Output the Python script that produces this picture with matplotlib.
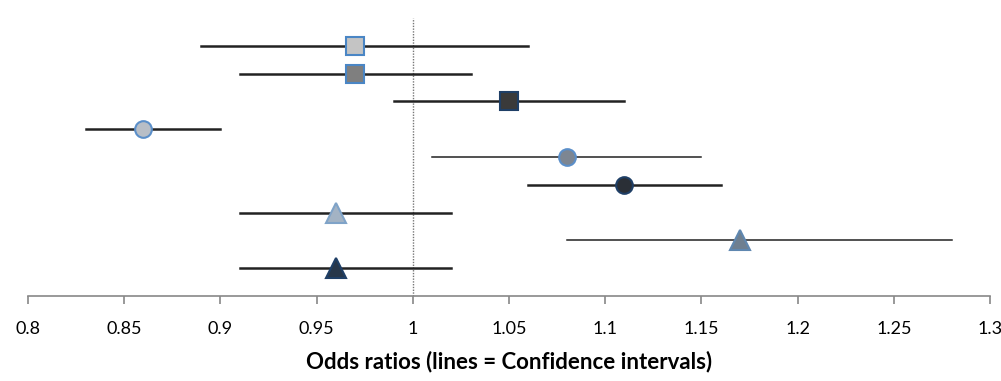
import matplotlib
matplotlib.use("Agg")
import matplotlib.pyplot as plt
import numpy as np

plt.rcParams["font.family"] = ["Lato", "DejaVu Sans"]

# rows listed top to bottom
odds = [0.97, 0.97, 1.05, 0.86, 1.08, 1.11, 0.96, 1.17, 0.96]
ci_lo = [0.89, 0.91, 0.99, 0.83, 1.01, 1.06, 0.91, 1.08, 0.91]
ci_hi = [1.06, 1.03, 1.11, 0.90, 1.15, 1.16, 1.02, 1.28, 1.02]
markers = ["s", "s", "s", "o", "o", "o", "^", "^", "^"]
fills = ["#c4c4c4", "#7f7f7f", "#3a3a3a", "#b8bec6", "#7d8692", "#2a2f36", "#a3b3c4", "#6e7f90", "#27374a"]
edges = ["#4a86c5", "#4a86c5", "#1f3f66", "#5b8fc9", "#5b8fc9", "#1f3f66", "#7fa3c8", "#5f87b0", "#1f3f66"]
line_w = [1.8, 1.8, 1.8, 1.8, 1.1, 1.8, 1.8, 1.1, 1.8]
ticks = [0.8, 0.85, 0.9, 0.95, 1, 1.05, 1.1, 1.15, 1.2, 1.25, 1.3]
tick_labels = ["0.8", "0.85", "0.9", "0.95", "1", "1.05", "1.1", "1.15", "1.2", "1.25", "1.3"]

fig = plt.figure(figsize=(10.01, 3.81), dpi=100)
ax = fig.add_axes([0.028, 0.223, 0.961, 0.73])

ypos = np.arange(len(odds), 0, -1)
ax.axvline(1.0, color="#777777", ls=(0, (1, 1)), lw=1.0, zorder=1)
for y, o, lo, hi, m, fc, ec, lw in zip(ypos, odds, ci_lo, ci_hi, markers, fills, edges, line_w):
    ax.plot([lo, hi], [y, y], color="#222222", lw=lw, zorder=2)
    ms = {"s": 13, "o": 12, "^": 14}[m]
    ax.plot(o, y, marker=m, ms=ms, mfc=fc, mec=ec, mew=1.5, ls="none", zorder=3)

ax.set_xlim(0.8, 1.3)
ax.set_ylim(0, 10)
ax.set_yticks([])
for s in ["top", "right", "left"]:
    ax.spines[s].set_visible(False)
ax.spines["bottom"].set_color("#888888")
ax.spines["bottom"].set_linewidth(1.2)
ax.set_xticks(ticks)
ax.set_xticklabels(tick_labels, fontsize=13)
ax.tick_params(axis="x", length=6, width=1.2, color="#888888", pad=12)
ax.set_xlabel("Odds ratios (lines = Confidence intervals)", fontsize=16, fontweight="bold", labelpad=10)

fig.savefig("out.png", dpi=100)
